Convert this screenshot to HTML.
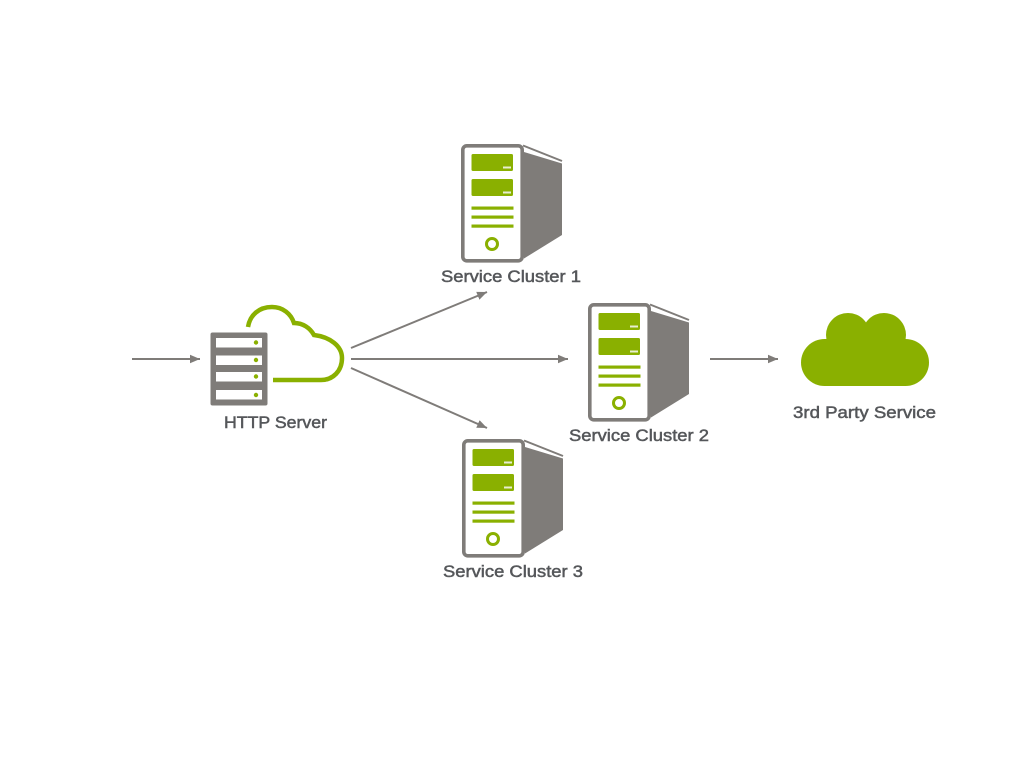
<!DOCTYPE html>
<html>
<head>
<meta charset="utf-8">
<style>
html,body{margin:0;padding:0;background:#fff;width:1024px;height:768px;overflow:hidden}
svg{display:block}
text{font-family:"Liberation Sans",sans-serif;font-size:17px;fill:#55575a;stroke:#55575a;stroke-width:.5px}
</style>
</head>
<body>
<svg width="1024" height="768" viewBox="0 0 1024 768" xmlns="http://www.w3.org/2000/svg">
<defs>
<marker id="a" markerUnits="userSpaceOnUse" markerWidth="11" markerHeight="10" refX="10" refY="5" orient="auto">
<path d="M0 .8L10 5L0 9.200Z" fill="#7f7c79"/>
</marker>
<g id="srv">
<rect x="462.800" y="145.800" width="59.400" height="115" rx="4" fill="#fff" stroke="#7f7c79" stroke-width="3.600"/>
<path d="M524 152L562 163.500V235L524 258.500Z" fill="#7f7c79"/>
<path d="M523 145.500L562 161" fill="none" stroke="#7f7c79" stroke-width="2"/>
<rect x="471.500" y="154" width="41.500" height="17" rx="1.500" fill="#8ab000"/>
<rect x="471.500" y="179" width="41.500" height="17" rx="1.500" fill="#8ab000"/>
<rect x="503" y="166.500" width="8" height="2" fill="#e8eed0"/>
<rect x="503" y="191.500" width="8" height="2" fill="#e8eed0"/>
<rect x="471.500" y="206.500" width="42" height="3.200" fill="#8ab000"/>
<rect x="471.500" y="215.500" width="42" height="3.200" fill="#8ab000"/>
<rect x="471.500" y="224.500" width="42" height="3.200" fill="#8ab000"/>
<circle cx="492" cy="244" r="5.500" fill="none" stroke="#8ab000" stroke-width="3"/>
</g>
</defs>

<use href="#srv"/>
<use href="#srv" x="127" y="159"/>
<use href="#srv" x="1" y="295"/>

<g stroke="#7f7c79" stroke-width="2" fill="none">
<path d="M132 359H200" marker-end="url(#a)"/>
<path d="M351 348L487 292" marker-end="url(#a)"/>
<path d="M351 359H568" marker-end="url(#a)"/>
<path d="M351 368L487 428" marker-end="url(#a)"/>
<path d="M710 359H778" marker-end="url(#a)"/>
</g>

<path d="M248 327C250 315 259 307 272 307C283 307 291 314 294 323C303 323 310 328 314 335C330 337 342 346 342 358C342 371 333 380 321 380H273" fill="none" stroke="#8ab000" stroke-width="4.500"/>

<rect x="210.500" y="332.500" width="57" height="73" rx="2" fill="#7f7c79"/>
<g fill="#fff">
<rect x="216" y="338" width="46" height="9.500"/>
<rect x="216" y="355.500" width="46" height="9.500"/>
<rect x="216" y="372" width="46" height="9.500"/>
<rect x="216" y="390" width="46" height="9.500"/>
</g>
<g fill="#8ab000">
<circle cx="256" cy="342.500" r="2.200"/>
<circle cx="256" cy="360" r="2.200"/>
<circle cx="256" cy="376.500" r="2.200"/>
<circle cx="256" cy="395" r="2.200"/>
</g>

<g fill="#8ab000">
<circle cx="848" cy="335" r="22"/>
<circle cx="884" cy="335" r="22"/>
<rect x="801" y="339" width="128" height="47" rx="23.500"/>
</g>

<text x="224" y="428" textLength="103" lengthAdjust="spacingAndGlyphs">HTTP Server</text>
<text x="441" y="282" textLength="140" lengthAdjust="spacingAndGlyphs">Service Cluster 1</text>
<text x="569" y="441" textLength="140" lengthAdjust="spacingAndGlyphs">Service Cluster 2</text>
<text x="443" y="577" textLength="140" lengthAdjust="spacingAndGlyphs">Service Cluster 3</text>
<text x="793" y="418" textLength="143" lengthAdjust="spacingAndGlyphs">3rd Party Service</text>
</svg>
</body>
</html>
